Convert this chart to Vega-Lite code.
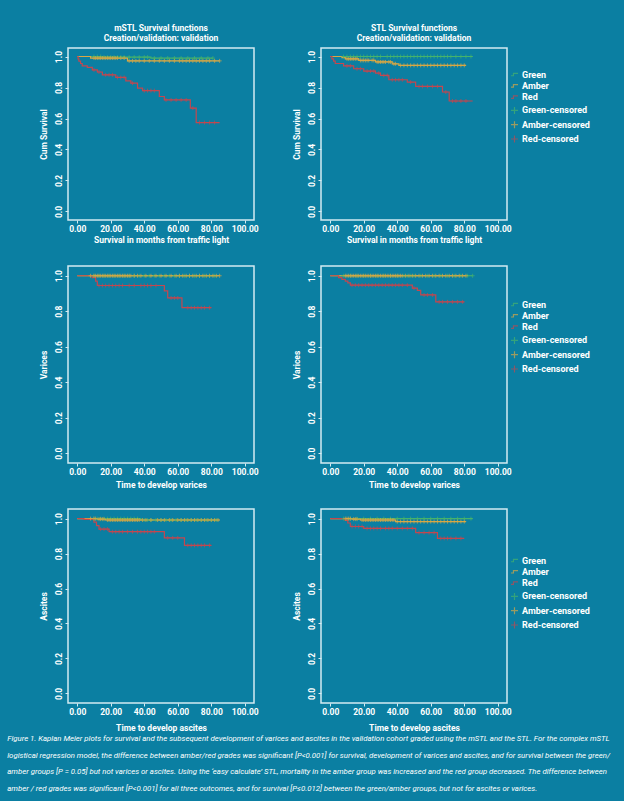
{
"$schema": "https://vega.github.io/schema/vega-lite/v6.json",
"background": "#0b7fa2",
"padding": {"left": 7, "top": 22, "right": 25, "bottom": 16},
"autosize": {"type": "pad"},
"datasets": {
"L": [
{"p":1,"k":"G","t":0,"s":1},{"p":1,"k":"G","t":15,"s":0.996},{"p":1,"k":"G","t":44,"s":0.99},{"p":1,"k":"G","t":81,"s":0.99},
{"p":1,"k":"A","t":0,"s":1},{"p":1,"k":"A","t":8,"s":0.99},{"p":1,"k":"A","t":30,"s":0.972},{"p":1,"k":"A","t":85,"s":0.972},
{"p":1,"k":"R","t":0,"s":1},{"p":1,"k":"R","t":0.5,"s":0.985},{"p":1,"k":"R","t":1,"s":0.97},{"p":1,"k":"R","t":2,"s":0.955},{"p":1,"k":"R","t":3,"s":0.94},{"p":1,"k":"R","t":6,"s":0.93},{"p":1,"k":"R","t":9,"s":0.914},{"p":1,"k":"R","t":12,"s":0.9},{"p":1,"k":"R","t":15,"s":0.882},{"p":1,"k":"R","t":23,"s":0.865},{"p":1,"k":"R","t":29,"s":0.843},{"p":1,"k":"R","t":32,"s":0.828},{"p":1,"k":"R","t":36,"s":0.796},{"p":1,"k":"R","t":39,"s":0.78},{"p":1,"k":"R","t":49,"s":0.742},{"p":1,"k":"R","t":52,"s":0.72},{"p":1,"k":"R","t":67.5,"s":0.667},{"p":1,"k":"R","t":71,"s":0.574},{"p":1,"k":"R","t":85,"s":0.574},
{"p":2,"k":"G","t":0,"s":1},{"p":2,"k":"G","t":85,"s":1},
{"p":2,"k":"A","t":0,"s":1},{"p":2,"k":"A","t":7,"s":0.993},{"p":2,"k":"A","t":9,"s":0.985},{"p":2,"k":"A","t":17,"s":0.975},{"p":2,"k":"A","t":27,"s":0.965},{"p":2,"k":"A","t":37,"s":0.953},{"p":2,"k":"A","t":41,"s":0.943},{"p":2,"k":"A","t":81,"s":0.943},
{"p":2,"k":"R","t":0,"s":1},{"p":2,"k":"R","t":1,"s":0.985},{"p":2,"k":"R","t":2,"s":0.97},{"p":2,"k":"R","t":3,"s":0.955},{"p":2,"k":"R","t":8,"s":0.94},{"p":2,"k":"R","t":14,"s":0.921},{"p":2,"k":"R","t":20,"s":0.906},{"p":2,"k":"R","t":27,"s":0.893},{"p":2,"k":"R","t":30,"s":0.878},{"p":2,"k":"R","t":35,"s":0.85},{"p":2,"k":"R","t":46,"s":0.835},{"p":2,"k":"R","t":51,"s":0.807},{"p":2,"k":"R","t":67,"s":0.771},{"p":2,"k":"R","t":71,"s":0.713},{"p":2,"k":"R","t":85,"s":0.713},
{"p":3,"k":"G","t":0,"s":1},{"p":3,"k":"G","t":84,"s":1},
{"p":3,"k":"A","t":0,"s":1},{"p":3,"k":"A","t":85,"s":1},
{"p":3,"k":"R","t":0,"s":1},{"p":3,"k":"R","t":9,"s":0.99},{"p":3,"k":"R","t":11,"s":0.97},{"p":3,"k":"R","t":12,"s":0.945},{"p":3,"k":"R","t":52,"s":0.915},{"p":3,"k":"R","t":54,"s":0.875},{"p":3,"k":"R","t":62.5,"s":0.82},{"p":3,"k":"R","t":80,"s":0.82},
{"p":4,"k":"G","t":0,"s":1},{"p":4,"k":"G","t":85,"s":1},
{"p":4,"k":"A","t":0,"s":1},{"p":4,"k":"A","t":81,"s":1},
{"p":4,"k":"R","t":0,"s":1},{"p":4,"k":"R","t":5,"s":0.99},{"p":4,"k":"R","t":7,"s":0.98},{"p":4,"k":"R","t":9,"s":0.97},{"p":4,"k":"R","t":10.5,"s":0.96},{"p":4,"k":"R","t":12,"s":0.947},{"p":4,"k":"R","t":49,"s":0.93},{"p":4,"k":"R","t":52,"s":0.918},{"p":4,"k":"R","t":54,"s":0.892},{"p":4,"k":"R","t":63,"s":0.853},{"p":4,"k":"R","t":80,"s":0.853},
{"p":5,"k":"G","t":0,"s":1},{"p":5,"k":"G","t":38,"s":0.992},{"p":5,"k":"G","t":84,"s":0.992},
{"p":5,"k":"A","t":0,"s":1},{"p":5,"k":"A","t":12,"s":0.997},{"p":5,"k":"A","t":17,"s":0.992},{"p":5,"k":"A","t":85,"s":0.992},
{"p":5,"k":"R","t":0,"s":1},{"p":5,"k":"R","t":4,"s":0.996},{"p":5,"k":"R","t":10,"s":0.98},{"p":5,"k":"R","t":11.5,"s":0.96},{"p":5,"k":"R","t":13,"s":0.94},{"p":5,"k":"R","t":19,"s":0.925},{"p":5,"k":"R","t":52,"s":0.89},{"p":5,"k":"R","t":64,"s":0.847},{"p":5,"k":"R","t":80,"s":0.847},
{"p":6,"k":"G","t":0,"s":1},{"p":6,"k":"G","t":85,"s":1},
{"p":6,"k":"A","t":0,"s":1},{"p":6,"k":"A","t":13,"s":0.997},{"p":6,"k":"A","t":18,"s":0.992},{"p":6,"k":"A","t":39,"s":0.983},{"p":6,"k":"A","t":81,"s":0.983},
{"p":6,"k":"R","t":0,"s":1},{"p":6,"k":"R","t":9,"s":0.99},{"p":6,"k":"R","t":10.5,"s":0.975},{"p":6,"k":"R","t":12,"s":0.955},{"p":6,"k":"R","t":20,"s":0.944},{"p":6,"k":"R","t":51,"s":0.92},{"p":6,"k":"R","t":64,"s":0.887},{"p":6,"k":"R","t":80,"s":0.887}
],
"C": [
{"p":1,"k":"Gc","t":10,"s":1},{"p":1,"k":"Gc","t":12,"s":1},{"p":1,"k":"Gc","t":14,"s":1},{"p":1,"k":"Gc","t":16,"s":0.996},{"p":1,"k":"Gc","t":18,"s":0.996},{"p":1,"k":"Gc","t":20,"s":0.996},{"p":1,"k":"Gc","t":22,"s":0.996},{"p":1,"k":"Gc","t":24,"s":0.996},{"p":1,"k":"Gc","t":26,"s":0.996},{"p":1,"k":"Gc","t":28,"s":0.996},{"p":1,"k":"Gc","t":31,"s":0.996},{"p":1,"k":"Gc","t":34,"s":0.996},{"p":1,"k":"Gc","t":37,"s":0.996},{"p":1,"k":"Gc","t":40,"s":0.996},{"p":1,"k":"Gc","t":42,"s":0.996},{"p":1,"k":"Gc","t":46,"s":0.99},{"p":1,"k":"Gc","t":50,"s":0.99},{"p":1,"k":"Gc","t":54,"s":0.99},{"p":1,"k":"Gc","t":58,"s":0.99},{"p":1,"k":"Gc","t":62,"s":0.99},{"p":1,"k":"Gc","t":66,"s":0.99},{"p":1,"k":"Gc","t":70,"s":0.99},{"p":1,"k":"Gc","t":74,"s":0.99},{"p":1,"k":"Gc","t":78,"s":0.99},{"p":1,"k":"Gc","t":81,"s":0.99},
{"p":1,"k":"Ac","t":10,"s":0.99},{"p":1,"k":"Ac","t":11,"s":0.99},{"p":1,"k":"Ac","t":12,"s":0.99},{"p":1,"k":"Ac","t":13,"s":0.99},{"p":1,"k":"Ac","t":14,"s":0.99},{"p":1,"k":"Ac","t":15,"s":0.99},{"p":1,"k":"Ac","t":16,"s":0.99},{"p":1,"k":"Ac","t":17,"s":0.99},{"p":1,"k":"Ac","t":18,"s":0.99},{"p":1,"k":"Ac","t":19,"s":0.99},{"p":1,"k":"Ac","t":20,"s":0.99},{"p":1,"k":"Ac","t":21,"s":0.99},{"p":1,"k":"Ac","t":22,"s":0.99},{"p":1,"k":"Ac","t":23,"s":0.99},{"p":1,"k":"Ac","t":24,"s":0.99},{"p":1,"k":"Ac","t":26,"s":0.99},{"p":1,"k":"Ac","t":28,"s":0.99},{"p":1,"k":"Ac","t":31,"s":0.972},{"p":1,"k":"Ac","t":33,"s":0.972},{"p":1,"k":"Ac","t":35,"s":0.972},{"p":1,"k":"Ac","t":37,"s":0.972},{"p":1,"k":"Ac","t":40,"s":0.972},{"p":1,"k":"Ac","t":43,"s":0.972},{"p":1,"k":"Ac","t":46,"s":0.972},{"p":1,"k":"Ac","t":49,"s":0.972},{"p":1,"k":"Ac","t":52,"s":0.972},{"p":1,"k":"Ac","t":55,"s":0.972},{"p":1,"k":"Ac","t":58,"s":0.972},{"p":1,"k":"Ac","t":61,"s":0.972},{"p":1,"k":"Ac","t":63,"s":0.972},{"p":1,"k":"Ac","t":65,"s":0.972},{"p":1,"k":"Ac","t":67,"s":0.972},{"p":1,"k":"Ac","t":69,"s":0.972},{"p":1,"k":"Ac","t":71,"s":0.972},{"p":1,"k":"Ac","t":73,"s":0.972},{"p":1,"k":"Ac","t":75,"s":0.972},{"p":1,"k":"Ac","t":77,"s":0.972},{"p":1,"k":"Ac","t":79,"s":0.972},{"p":1,"k":"Ac","t":82,"s":0.972},{"p":1,"k":"Ac","t":85,"s":0.972},
{"p":1,"k":"Rc","t":10,"s":0.914},{"p":1,"k":"Rc","t":13,"s":0.9},{"p":1,"k":"Rc","t":17,"s":0.882},{"p":1,"k":"Rc","t":19,"s":0.882},{"p":1,"k":"Rc","t":21,"s":0.882},{"p":1,"k":"Rc","t":24,"s":0.865},{"p":1,"k":"Rc","t":26,"s":0.865},{"p":1,"k":"Rc","t":28,"s":0.865},{"p":1,"k":"Rc","t":33,"s":0.828},{"p":1,"k":"Rc","t":40,"s":0.78},{"p":1,"k":"Rc","t":42,"s":0.78},{"p":1,"k":"Rc","t":44,"s":0.78},{"p":1,"k":"Rc","t":46,"s":0.78},{"p":1,"k":"Rc","t":53,"s":0.72},{"p":1,"k":"Rc","t":56,"s":0.72},{"p":1,"k":"Rc","t":59,"s":0.72},{"p":1,"k":"Rc","t":62,"s":0.72},{"p":1,"k":"Rc","t":65,"s":0.72},{"p":1,"k":"Rc","t":69,"s":0.667},{"p":1,"k":"Rc","t":73,"s":0.574},{"p":1,"k":"Rc","t":76,"s":0.574},{"p":1,"k":"Rc","t":79,"s":0.574},{"p":1,"k":"Rc","t":82,"s":0.574},
{"p":2,"k":"Gc","t":8,"s":1},{"p":2,"k":"Gc","t":10,"s":1},{"p":2,"k":"Gc","t":12,"s":1},{"p":2,"k":"Gc","t":14,"s":1},{"p":2,"k":"Gc","t":16,"s":1},{"p":2,"k":"Gc","t":18,"s":1},{"p":2,"k":"Gc","t":20,"s":1},{"p":2,"k":"Gc","t":22,"s":1},{"p":2,"k":"Gc","t":24,"s":1},{"p":2,"k":"Gc","t":26,"s":1},{"p":2,"k":"Gc","t":28,"s":1},{"p":2,"k":"Gc","t":30,"s":1},{"p":2,"k":"Gc","t":34,"s":1},{"p":2,"k":"Gc","t":36,"s":1},{"p":2,"k":"Gc","t":38,"s":1},{"p":2,"k":"Gc","t":40,"s":1},{"p":2,"k":"Gc","t":42,"s":1},{"p":2,"k":"Gc","t":44,"s":1},{"p":2,"k":"Gc","t":46,"s":1},{"p":2,"k":"Gc","t":48,"s":1},{"p":2,"k":"Gc","t":50,"s":1},{"p":2,"k":"Gc","t":52,"s":1},{"p":2,"k":"Gc","t":54,"s":1},{"p":2,"k":"Gc","t":56,"s":1},{"p":2,"k":"Gc","t":58,"s":1},{"p":2,"k":"Gc","t":60,"s":1},{"p":2,"k":"Gc","t":62,"s":1},{"p":2,"k":"Gc","t":64,"s":1},{"p":2,"k":"Gc","t":66,"s":1},{"p":2,"k":"Gc","t":68,"s":1},{"p":2,"k":"Gc","t":70,"s":1},{"p":2,"k":"Gc","t":72,"s":1},{"p":2,"k":"Gc","t":75,"s":1},{"p":2,"k":"Gc","t":78,"s":1},{"p":2,"k":"Gc","t":81,"s":1},{"p":2,"k":"Gc","t":84,"s":1},
{"p":2,"k":"Ac","t":10,"s":0.985},{"p":2,"k":"Ac","t":11,"s":0.985},{"p":2,"k":"Ac","t":12,"s":0.985},{"p":2,"k":"Ac","t":13,"s":0.985},{"p":2,"k":"Ac","t":14,"s":0.985},{"p":2,"k":"Ac","t":15,"s":0.985},{"p":2,"k":"Ac","t":16,"s":0.985},{"p":2,"k":"Ac","t":18,"s":0.975},{"p":2,"k":"Ac","t":19,"s":0.975},{"p":2,"k":"Ac","t":20,"s":0.975},{"p":2,"k":"Ac","t":21,"s":0.975},{"p":2,"k":"Ac","t":22,"s":0.975},{"p":2,"k":"Ac","t":23,"s":0.975},{"p":2,"k":"Ac","t":25,"s":0.975},{"p":2,"k":"Ac","t":26,"s":0.975},{"p":2,"k":"Ac","t":28,"s":0.965},{"p":2,"k":"Ac","t":29,"s":0.965},{"p":2,"k":"Ac","t":30,"s":0.965},{"p":2,"k":"Ac","t":31,"s":0.965},{"p":2,"k":"Ac","t":32,"s":0.965},{"p":2,"k":"Ac","t":33,"s":0.965},{"p":2,"k":"Ac","t":35,"s":0.965},{"p":2,"k":"Ac","t":36,"s":0.965},{"p":2,"k":"Ac","t":38,"s":0.953},{"p":2,"k":"Ac","t":39,"s":0.953},{"p":2,"k":"Ac","t":42,"s":0.943},{"p":2,"k":"Ac","t":44,"s":0.943},{"p":2,"k":"Ac","t":46,"s":0.943},{"p":2,"k":"Ac","t":48,"s":0.943},{"p":2,"k":"Ac","t":50,"s":0.943},{"p":2,"k":"Ac","t":52,"s":0.943},{"p":2,"k":"Ac","t":54,"s":0.943},{"p":2,"k":"Ac","t":56,"s":0.943},{"p":2,"k":"Ac","t":58,"s":0.943},{"p":2,"k":"Ac","t":60,"s":0.943},{"p":2,"k":"Ac","t":62,"s":0.943},{"p":2,"k":"Ac","t":64,"s":0.943},{"p":2,"k":"Ac","t":66,"s":0.943},{"p":2,"k":"Ac","t":68,"s":0.943},{"p":2,"k":"Ac","t":70,"s":0.943},{"p":2,"k":"Ac","t":72,"s":0.943},{"p":2,"k":"Ac","t":74,"s":0.943},{"p":2,"k":"Ac","t":76,"s":0.943},{"p":2,"k":"Ac","t":78,"s":0.943},{"p":2,"k":"Ac","t":80,"s":0.943},
{"p":2,"k":"Rc","t":10,"s":0.94},{"p":2,"k":"Rc","t":12,"s":0.94},{"p":2,"k":"Rc","t":16,"s":0.921},{"p":2,"k":"Rc","t":18,"s":0.921},{"p":2,"k":"Rc","t":22,"s":0.906},{"p":2,"k":"Rc","t":24,"s":0.906},{"p":2,"k":"Rc","t":26,"s":0.906},{"p":2,"k":"Rc","t":29,"s":0.893},{"p":2,"k":"Rc","t":32,"s":0.878},{"p":2,"k":"Rc","t":34,"s":0.878},{"p":2,"k":"Rc","t":37,"s":0.85},{"p":2,"k":"Rc","t":39,"s":0.85},{"p":2,"k":"Rc","t":41,"s":0.85},{"p":2,"k":"Rc","t":43,"s":0.85},{"p":2,"k":"Rc","t":48,"s":0.835},{"p":2,"k":"Rc","t":53,"s":0.807},{"p":2,"k":"Rc","t":55,"s":0.807},{"p":2,"k":"Rc","t":58,"s":0.807},{"p":2,"k":"Rc","t":61,"s":0.807},{"p":2,"k":"Rc","t":64,"s":0.807},{"p":2,"k":"Rc","t":69,"s":0.771},{"p":2,"k":"Rc","t":73,"s":0.713},{"p":2,"k":"Rc","t":75,"s":0.713},{"p":2,"k":"Rc","t":78,"s":0.713},{"p":2,"k":"Rc","t":81,"s":0.713},
{"p":3,"k":"Gc","t":10,"s":1},{"p":3,"k":"Gc","t":13,"s":1},{"p":3,"k":"Gc","t":16,"s":1},{"p":3,"k":"Gc","t":19,"s":1},{"p":3,"k":"Gc","t":22,"s":1},{"p":3,"k":"Gc","t":25,"s":1},{"p":3,"k":"Gc","t":28,"s":1},{"p":3,"k":"Gc","t":31,"s":1},{"p":3,"k":"Gc","t":34,"s":1},{"p":3,"k":"Gc","t":37,"s":1},{"p":3,"k":"Gc","t":40,"s":1},{"p":3,"k":"Gc","t":43,"s":1},{"p":3,"k":"Gc","t":46,"s":1},{"p":3,"k":"Gc","t":49,"s":1},{"p":3,"k":"Gc","t":52,"s":1},{"p":3,"k":"Gc","t":55,"s":1},{"p":3,"k":"Gc","t":58,"s":1},{"p":3,"k":"Gc","t":61,"s":1},{"p":3,"k":"Gc","t":64,"s":1},{"p":3,"k":"Gc","t":67,"s":1},{"p":3,"k":"Gc","t":70,"s":1},{"p":3,"k":"Gc","t":73,"s":1},{"p":3,"k":"Gc","t":76,"s":1},{"p":3,"k":"Gc","t":79,"s":1},{"p":3,"k":"Gc","t":82,"s":1},
{"p":3,"k":"Ac","t":8,"s":1},{"p":3,"k":"Ac","t":10,"s":1},{"p":3,"k":"Ac","t":11,"s":1},{"p":3,"k":"Ac","t":12,"s":1},{"p":3,"k":"Ac","t":13,"s":1},{"p":3,"k":"Ac","t":14,"s":1},{"p":3,"k":"Ac","t":15,"s":1},{"p":3,"k":"Ac","t":16,"s":1},{"p":3,"k":"Ac","t":17,"s":1},{"p":3,"k":"Ac","t":18,"s":1},{"p":3,"k":"Ac","t":19,"s":1},{"p":3,"k":"Ac","t":20,"s":1},{"p":3,"k":"Ac","t":21,"s":1},{"p":3,"k":"Ac","t":22,"s":1},{"p":3,"k":"Ac","t":23,"s":1},{"p":3,"k":"Ac","t":24,"s":1},{"p":3,"k":"Ac","t":25,"s":1},{"p":3,"k":"Ac","t":26,"s":1},{"p":3,"k":"Ac","t":27,"s":1},{"p":3,"k":"Ac","t":28,"s":1},{"p":3,"k":"Ac","t":29,"s":1},{"p":3,"k":"Ac","t":30,"s":1},{"p":3,"k":"Ac","t":31,"s":1},{"p":3,"k":"Ac","t":32,"s":1},{"p":3,"k":"Ac","t":34,"s":1},{"p":3,"k":"Ac","t":36,"s":1},{"p":3,"k":"Ac","t":38,"s":1},{"p":3,"k":"Ac","t":41,"s":1},{"p":3,"k":"Ac","t":44,"s":1},{"p":3,"k":"Ac","t":47,"s":1},{"p":3,"k":"Ac","t":50,"s":1},{"p":3,"k":"Ac","t":53,"s":1},{"p":3,"k":"Ac","t":56,"s":1},{"p":3,"k":"Ac","t":59,"s":1},{"p":3,"k":"Ac","t":61,"s":1},{"p":3,"k":"Ac","t":63,"s":1},{"p":3,"k":"Ac","t":65,"s":1},{"p":3,"k":"Ac","t":67,"s":1},{"p":3,"k":"Ac","t":69,"s":1},{"p":3,"k":"Ac","t":71,"s":1},{"p":3,"k":"Ac","t":73,"s":1},{"p":3,"k":"Ac","t":75,"s":1},{"p":3,"k":"Ac","t":77,"s":1},{"p":3,"k":"Ac","t":79,"s":1},{"p":3,"k":"Ac","t":81,"s":1},{"p":3,"k":"Ac","t":83,"s":1},{"p":3,"k":"Ac","t":85,"s":1},
{"p":3,"k":"Rc","t":13,"s":0.945},{"p":3,"k":"Rc","t":15,"s":0.945},{"p":3,"k":"Rc","t":17,"s":0.945},{"p":3,"k":"Rc","t":19,"s":0.945},{"p":3,"k":"Rc","t":21,"s":0.945},{"p":3,"k":"Rc","t":23,"s":0.945},{"p":3,"k":"Rc","t":25,"s":0.945},{"p":3,"k":"Rc","t":27,"s":0.945},{"p":3,"k":"Rc","t":31,"s":0.945},{"p":3,"k":"Rc","t":34,"s":0.945},{"p":3,"k":"Rc","t":38,"s":0.945},{"p":3,"k":"Rc","t":40,"s":0.945},{"p":3,"k":"Rc","t":42,"s":0.945},{"p":3,"k":"Rc","t":44,"s":0.945},{"p":3,"k":"Rc","t":47,"s":0.945},{"p":3,"k":"Rc","t":56,"s":0.875},{"p":3,"k":"Rc","t":58,"s":0.875},{"p":3,"k":"Rc","t":60,"s":0.875},{"p":3,"k":"Rc","t":66,"s":0.82},{"p":3,"k":"Rc","t":68,"s":0.82},{"p":3,"k":"Rc","t":70,"s":0.82},{"p":3,"k":"Rc","t":72,"s":0.82},{"p":3,"k":"Rc","t":74,"s":0.82},{"p":3,"k":"Rc","t":76,"s":0.82},{"p":3,"k":"Rc","t":79,"s":0.82},
{"p":4,"k":"Gc","t":8,"s":1},{"p":4,"k":"Gc","t":12,"s":1},{"p":4,"k":"Gc","t":16,"s":1},{"p":4,"k":"Gc","t":20,"s":1},{"p":4,"k":"Gc","t":24,"s":1},{"p":4,"k":"Gc","t":28,"s":1},{"p":4,"k":"Gc","t":32,"s":1},{"p":4,"k":"Gc","t":36,"s":1},{"p":4,"k":"Gc","t":40,"s":1},{"p":4,"k":"Gc","t":44,"s":1},{"p":4,"k":"Gc","t":46,"s":1},{"p":4,"k":"Gc","t":48,"s":1},{"p":4,"k":"Gc","t":50,"s":1},{"p":4,"k":"Gc","t":54,"s":1},{"p":4,"k":"Gc","t":58,"s":1},{"p":4,"k":"Gc","t":62,"s":1},{"p":4,"k":"Gc","t":66,"s":1},{"p":4,"k":"Gc","t":70,"s":1},{"p":4,"k":"Gc","t":74,"s":1},{"p":4,"k":"Gc","t":78,"s":1},{"p":4,"k":"Gc","t":82,"s":1},{"p":4,"k":"Gc","t":85,"s":1},
{"p":4,"k":"Ac","t":9,"s":1},{"p":4,"k":"Ac","t":10,"s":1},{"p":4,"k":"Ac","t":11,"s":1},{"p":4,"k":"Ac","t":12,"s":1},{"p":4,"k":"Ac","t":13,"s":1},{"p":4,"k":"Ac","t":14,"s":1},{"p":4,"k":"Ac","t":15,"s":1},{"p":4,"k":"Ac","t":16,"s":1},{"p":4,"k":"Ac","t":17,"s":1},{"p":4,"k":"Ac","t":18,"s":1},{"p":4,"k":"Ac","t":19,"s":1},{"p":4,"k":"Ac","t":20,"s":1},{"p":4,"k":"Ac","t":21,"s":1},{"p":4,"k":"Ac","t":22,"s":1},{"p":4,"k":"Ac","t":23,"s":1},{"p":4,"k":"Ac","t":24,"s":1},{"p":4,"k":"Ac","t":25,"s":1},{"p":4,"k":"Ac","t":26,"s":1},{"p":4,"k":"Ac","t":27,"s":1},{"p":4,"k":"Ac","t":28,"s":1},{"p":4,"k":"Ac","t":29,"s":1},{"p":4,"k":"Ac","t":30,"s":1},{"p":4,"k":"Ac","t":31,"s":1},{"p":4,"k":"Ac","t":32,"s":1},{"p":4,"k":"Ac","t":33,"s":1},{"p":4,"k":"Ac","t":34,"s":1},{"p":4,"k":"Ac","t":35,"s":1},{"p":4,"k":"Ac","t":36,"s":1},{"p":4,"k":"Ac","t":37,"s":1},{"p":4,"k":"Ac","t":38,"s":1},{"p":4,"k":"Ac","t":39,"s":1},{"p":4,"k":"Ac","t":40,"s":1},{"p":4,"k":"Ac","t":41,"s":1},{"p":4,"k":"Ac","t":42,"s":1},{"p":4,"k":"Ac","t":43,"s":1},{"p":4,"k":"Ac","t":45,"s":1},{"p":4,"k":"Ac","t":47,"s":1},{"p":4,"k":"Ac","t":49,"s":1},{"p":4,"k":"Ac","t":51,"s":1},{"p":4,"k":"Ac","t":53,"s":1},{"p":4,"k":"Ac","t":55,"s":1},{"p":4,"k":"Ac","t":57,"s":1},{"p":4,"k":"Ac","t":59,"s":1},{"p":4,"k":"Ac","t":61,"s":1},{"p":4,"k":"Ac","t":63,"s":1},{"p":4,"k":"Ac","t":65,"s":1},{"p":4,"k":"Ac","t":67,"s":1},{"p":4,"k":"Ac","t":69,"s":1},{"p":4,"k":"Ac","t":71,"s":1},{"p":4,"k":"Ac","t":73,"s":1},{"p":4,"k":"Ac","t":75,"s":1},{"p":4,"k":"Ac","t":77,"s":1},{"p":4,"k":"Ac","t":79,"s":1},{"p":4,"k":"Ac","t":81,"s":1},
{"p":4,"k":"Rc","t":13,"s":0.947},{"p":4,"k":"Rc","t":15,"s":0.947},{"p":4,"k":"Rc","t":17,"s":0.947},{"p":4,"k":"Rc","t":19,"s":0.947},{"p":4,"k":"Rc","t":21,"s":0.947},{"p":4,"k":"Rc","t":23,"s":0.947},{"p":4,"k":"Rc","t":25,"s":0.947},{"p":4,"k":"Rc","t":27,"s":0.947},{"p":4,"k":"Rc","t":29,"s":0.947},{"p":4,"k":"Rc","t":31,"s":0.947},{"p":4,"k":"Rc","t":33,"s":0.947},{"p":4,"k":"Rc","t":35,"s":0.947},{"p":4,"k":"Rc","t":37,"s":0.947},{"p":4,"k":"Rc","t":39,"s":0.947},{"p":4,"k":"Rc","t":41,"s":0.947},{"p":4,"k":"Rc","t":43,"s":0.947},{"p":4,"k":"Rc","t":46,"s":0.947},{"p":4,"k":"Rc","t":50,"s":0.93},{"p":4,"k":"Rc","t":56,"s":0.892},{"p":4,"k":"Rc","t":58,"s":0.892},{"p":4,"k":"Rc","t":61,"s":0.892},{"p":4,"k":"Rc","t":65,"s":0.853},{"p":4,"k":"Rc","t":67,"s":0.853},{"p":4,"k":"Rc","t":70,"s":0.853},{"p":4,"k":"Rc","t":73,"s":0.853},{"p":4,"k":"Rc","t":76,"s":0.853},{"p":4,"k":"Rc","t":79,"s":0.853},
{"p":5,"k":"Gc","t":10,"s":1},{"p":5,"k":"Gc","t":12,"s":1},{"p":5,"k":"Gc","t":14,"s":1},{"p":5,"k":"Gc","t":16,"s":1},{"p":5,"k":"Gc","t":18,"s":1},{"p":5,"k":"Gc","t":20,"s":1},{"p":5,"k":"Gc","t":22,"s":1},{"p":5,"k":"Gc","t":24,"s":1},{"p":5,"k":"Gc","t":26,"s":1},{"p":5,"k":"Gc","t":28,"s":1},{"p":5,"k":"Gc","t":30,"s":1},{"p":5,"k":"Gc","t":32,"s":1},{"p":5,"k":"Gc","t":34,"s":1},{"p":5,"k":"Gc","t":36,"s":1},{"p":5,"k":"Gc","t":40,"s":0.992},{"p":5,"k":"Gc","t":42,"s":0.992},{"p":5,"k":"Gc","t":44,"s":0.992},{"p":5,"k":"Gc","t":47,"s":0.992},{"p":5,"k":"Gc","t":50,"s":0.992},{"p":5,"k":"Gc","t":53,"s":0.992},{"p":5,"k":"Gc","t":56,"s":0.992},{"p":5,"k":"Gc","t":59,"s":0.992},{"p":5,"k":"Gc","t":62,"s":0.992},{"p":5,"k":"Gc","t":65,"s":0.992},{"p":5,"k":"Gc","t":68,"s":0.992},{"p":5,"k":"Gc","t":71,"s":0.992},{"p":5,"k":"Gc","t":74,"s":0.992},{"p":5,"k":"Gc","t":77,"s":0.992},{"p":5,"k":"Gc","t":80,"s":0.992},{"p":5,"k":"Gc","t":83,"s":0.992},
{"p":5,"k":"Ac","t":8,"s":1},{"p":5,"k":"Ac","t":10,"s":1},{"p":5,"k":"Ac","t":11,"s":1},{"p":5,"k":"Ac","t":13,"s":0.997},{"p":5,"k":"Ac","t":14,"s":0.997},{"p":5,"k":"Ac","t":15,"s":0.997},{"p":5,"k":"Ac","t":16,"s":0.997},{"p":5,"k":"Ac","t":18,"s":0.992},{"p":5,"k":"Ac","t":19,"s":0.992},{"p":5,"k":"Ac","t":20,"s":0.992},{"p":5,"k":"Ac","t":21,"s":0.992},{"p":5,"k":"Ac","t":22,"s":0.992},{"p":5,"k":"Ac","t":23,"s":0.992},{"p":5,"k":"Ac","t":24,"s":0.992},{"p":5,"k":"Ac","t":25,"s":0.992},{"p":5,"k":"Ac","t":26,"s":0.992},{"p":5,"k":"Ac","t":27,"s":0.992},{"p":5,"k":"Ac","t":28,"s":0.992},{"p":5,"k":"Ac","t":29,"s":0.992},{"p":5,"k":"Ac","t":30,"s":0.992},{"p":5,"k":"Ac","t":31,"s":0.992},{"p":5,"k":"Ac","t":32,"s":0.992},{"p":5,"k":"Ac","t":33,"s":0.992},{"p":5,"k":"Ac","t":34,"s":0.992},{"p":5,"k":"Ac","t":35,"s":0.992},{"p":5,"k":"Ac","t":36,"s":0.992},{"p":5,"k":"Ac","t":37,"s":0.992},{"p":5,"k":"Ac","t":39,"s":0.992},{"p":5,"k":"Ac","t":41,"s":0.992},{"p":5,"k":"Ac","t":44,"s":0.992},{"p":5,"k":"Ac","t":48,"s":0.992},{"p":5,"k":"Ac","t":50,"s":0.992},{"p":5,"k":"Ac","t":52,"s":0.992},{"p":5,"k":"Ac","t":55,"s":0.992},{"p":5,"k":"Ac","t":57,"s":0.992},{"p":5,"k":"Ac","t":60,"s":0.992},{"p":5,"k":"Ac","t":62,"s":0.992},{"p":5,"k":"Ac","t":64,"s":0.992},{"p":5,"k":"Ac","t":66,"s":0.992},{"p":5,"k":"Ac","t":68,"s":0.992},{"p":5,"k":"Ac","t":70,"s":0.992},{"p":5,"k":"Ac","t":72,"s":0.992},{"p":5,"k":"Ac","t":74,"s":0.992},{"p":5,"k":"Ac","t":76,"s":0.992},{"p":5,"k":"Ac","t":78,"s":0.992},{"p":5,"k":"Ac","t":80,"s":0.992},{"p":5,"k":"Ac","t":82,"s":0.992},{"p":5,"k":"Ac","t":84,"s":0.992},
{"p":5,"k":"Rc","t":14,"s":0.94},{"p":5,"k":"Rc","t":16,"s":0.94},{"p":5,"k":"Rc","t":18,"s":0.94},{"p":5,"k":"Rc","t":21,"s":0.925},{"p":5,"k":"Rc","t":23,"s":0.925},{"p":5,"k":"Rc","t":25,"s":0.925},{"p":5,"k":"Rc","t":27,"s":0.925},{"p":5,"k":"Rc","t":30,"s":0.925},{"p":5,"k":"Rc","t":33,"s":0.925},{"p":5,"k":"Rc","t":36,"s":0.925},{"p":5,"k":"Rc","t":38,"s":0.925},{"p":5,"k":"Rc","t":40,"s":0.925},{"p":5,"k":"Rc","t":42,"s":0.925},{"p":5,"k":"Rc","t":44,"s":0.925},{"p":5,"k":"Rc","t":46,"s":0.925},{"p":5,"k":"Rc","t":54,"s":0.89},{"p":5,"k":"Rc","t":57,"s":0.89},{"p":5,"k":"Rc","t":60,"s":0.89},{"p":5,"k":"Rc","t":66,"s":0.847},{"p":5,"k":"Rc","t":68,"s":0.847},{"p":5,"k":"Rc","t":70,"s":0.847},{"p":5,"k":"Rc","t":72,"s":0.847},{"p":5,"k":"Rc","t":74,"s":0.847},{"p":5,"k":"Rc","t":76,"s":0.847},{"p":5,"k":"Rc","t":79,"s":0.847},
{"p":6,"k":"Gc","t":8,"s":1},{"p":6,"k":"Gc","t":12,"s":1},{"p":6,"k":"Gc","t":16,"s":1},{"p":6,"k":"Gc","t":20,"s":1},{"p":6,"k":"Gc","t":24,"s":1},{"p":6,"k":"Gc","t":28,"s":1},{"p":6,"k":"Gc","t":32,"s":1},{"p":6,"k":"Gc","t":36,"s":1},{"p":6,"k":"Gc","t":40,"s":1},{"p":6,"k":"Gc","t":44,"s":1},{"p":6,"k":"Gc","t":48,"s":1},{"p":6,"k":"Gc","t":52,"s":1},{"p":6,"k":"Gc","t":56,"s":1},{"p":6,"k":"Gc","t":60,"s":1},{"p":6,"k":"Gc","t":64,"s":1},{"p":6,"k":"Gc","t":68,"s":1},{"p":6,"k":"Gc","t":72,"s":1},{"p":6,"k":"Gc","t":76,"s":1},{"p":6,"k":"Gc","t":80,"s":1},{"p":6,"k":"Gc","t":84,"s":1},
{"p":6,"k":"Ac","t":9,"s":1},{"p":6,"k":"Ac","t":10,"s":1},{"p":6,"k":"Ac","t":11,"s":1},{"p":6,"k":"Ac","t":12,"s":1},{"p":6,"k":"Ac","t":14,"s":0.997},{"p":6,"k":"Ac","t":15,"s":0.997},{"p":6,"k":"Ac","t":16,"s":0.997},{"p":6,"k":"Ac","t":19,"s":0.992},{"p":6,"k":"Ac","t":20,"s":0.992},{"p":6,"k":"Ac","t":21,"s":0.992},{"p":6,"k":"Ac","t":22,"s":0.992},{"p":6,"k":"Ac","t":23,"s":0.992},{"p":6,"k":"Ac","t":24,"s":0.992},{"p":6,"k":"Ac","t":25,"s":0.992},{"p":6,"k":"Ac","t":26,"s":0.992},{"p":6,"k":"Ac","t":27,"s":0.992},{"p":6,"k":"Ac","t":28,"s":0.992},{"p":6,"k":"Ac","t":29,"s":0.992},{"p":6,"k":"Ac","t":30,"s":0.992},{"p":6,"k":"Ac","t":31,"s":0.992},{"p":6,"k":"Ac","t":32,"s":0.992},{"p":6,"k":"Ac","t":33,"s":0.992},{"p":6,"k":"Ac","t":34,"s":0.992},{"p":6,"k":"Ac","t":35,"s":0.992},{"p":6,"k":"Ac","t":36,"s":0.992},{"p":6,"k":"Ac","t":37,"s":0.992},{"p":6,"k":"Ac","t":38,"s":0.992},{"p":6,"k":"Ac","t":40,"s":0.983},{"p":6,"k":"Ac","t":42,"s":0.983},{"p":6,"k":"Ac","t":44,"s":0.983},{"p":6,"k":"Ac","t":46,"s":0.983},{"p":6,"k":"Ac","t":48,"s":0.983},{"p":6,"k":"Ac","t":50,"s":0.983},{"p":6,"k":"Ac","t":52,"s":0.983},{"p":6,"k":"Ac","t":54,"s":0.983},{"p":6,"k":"Ac","t":56,"s":0.983},{"p":6,"k":"Ac","t":58,"s":0.983},{"p":6,"k":"Ac","t":60,"s":0.983},{"p":6,"k":"Ac","t":62,"s":0.983},{"p":6,"k":"Ac","t":64,"s":0.983},{"p":6,"k":"Ac","t":66,"s":0.983},{"p":6,"k":"Ac","t":68,"s":0.983},{"p":6,"k":"Ac","t":70,"s":0.983},{"p":6,"k":"Ac","t":72,"s":0.983},{"p":6,"k":"Ac","t":74,"s":0.983},{"p":6,"k":"Ac","t":76,"s":0.983},{"p":6,"k":"Ac","t":78,"s":0.983},{"p":6,"k":"Ac","t":80,"s":0.983},
{"p":6,"k":"Rc","t":13,"s":0.955},{"p":6,"k":"Rc","t":15,"s":0.955},{"p":6,"k":"Rc","t":17,"s":0.955},{"p":6,"k":"Rc","t":19,"s":0.955},{"p":6,"k":"Rc","t":22,"s":0.944},{"p":6,"k":"Rc","t":24,"s":0.944},{"p":6,"k":"Rc","t":26,"s":0.944},{"p":6,"k":"Rc","t":28,"s":0.944},{"p":6,"k":"Rc","t":30,"s":0.944},{"p":6,"k":"Rc","t":33,"s":0.944},{"p":6,"k":"Rc","t":35,"s":0.944},{"p":6,"k":"Rc","t":37,"s":0.944},{"p":6,"k":"Rc","t":40,"s":0.944},{"p":6,"k":"Rc","t":43,"s":0.944},{"p":6,"k":"Rc","t":46,"s":0.944},{"p":6,"k":"Rc","t":49,"s":0.944},{"p":6,"k":"Rc","t":53,"s":0.92},{"p":6,"k":"Rc","t":56,"s":0.92},{"p":6,"k":"Rc","t":59,"s":0.92},{"p":6,"k":"Rc","t":62,"s":0.92},{"p":6,"k":"Rc","t":66,"s":0.887},{"p":6,"k":"Rc","t":68,"s":0.887},{"p":6,"k":"Rc","t":70,"s":0.887},{"p":6,"k":"Rc","t":72,"s":0.887},{"p":6,"k":"Rc","t":75,"s":0.887},{"p":6,"k":"Rc","t":78,"s":0.887}
]
},
"title": {
"text": [
"Figure 1. Kaplan Meier plots for survival and the subsequent development of varices and ascites in the validation cohort graded using the mSTL and the STL. For the complex mSTL",
"logistical regression model, the difference between amber/red grades was significant [P<0.001] for survival, development of varices and ascites, and for survival between the green/",
"amber groups [P = 0.05] but not varices or ascites. Using the ‘easy calculate’ STL, mortality in the amber group was increased and the red group decreased. The difference between",
"amber / red grades was significant [P<0.001] for all three outcomes, and for survival [P≤0.012] between the green/amber groups, but not for ascites or varices."
],
"orient": "bottom", "anchor": "start", "frame": "bounds",
"font": "Roboto", "fontStyle": "italic", "fontWeight": "normal",
"fontSize": 7.8, "color": "white", "lineHeight": 16.5, "offset": 3, "dx": -31
},
"columns": 2,
"spacing": {"row": 46, "column": 67},
"bounds": "flush",
"resolve": {"scale": {"color": "independent", "shape": "independent", "stroke": "independent"}},
"concat": [
{"width": 186, "height": 172,
 "title": {"text": ["mSTL Survival functions", "Creation/validation: validation"], "fontSize": 8.5, "fontWeight": "bold", "color": "white", "font": "Roboto", "offset": 6, "lineHeight": 10, "anchor": "middle"},
 "encoding": {
  "x": {"field": "t", "type": "quantitative", "scale": {"domain": [-5.5, 105.5], "nice": false, "zero": false}, "axis": {"values": [0,20,40,60,80,100], "format": ".2f", "title": "Survival in months from traffic light", "labelPadding": 1.5, "titlePadding": 2}},
  "y": {"field": "s", "type": "quantitative", "scale": {"domain": [-0.055, 1.055], "nice": false, "zero": false}, "axis": {"values": [0,0.2,0.4,0.6,0.8,1], "format": ".1f", "title": "Cum Survival", "labelAngle": -90, "labelAlign": "center", "labelBaseline": "bottom", "labelPadding": 2, "titlePadding": 6}}
 },
 "layer": [
  {"data": {"name": "L"}, "transform": [{"filter": "datum.p == 1"}], "mark": {"type": "line", "interpolate": "step-after", "strokeWidth": 1.2},
   "encoding": {"stroke": {"field": "k", "type": "nominal", "scale": {"domain": ["G","A","R"], "range": ["#46b36c","#d9a845","#c4474f"]}, "legend": null}}},
  {"data": {"name": "C"}, "transform": [{"filter": "datum.p == 1"}], "mark": {"type": "point", "filled": false, "strokeWidth": 1, "size": 16},
   "encoding": {
    "color": {"field": "k", "type": "nominal", "scale": {"domain": ["G","A","R","Gc","Ac","Rc"], "range": ["#46b36c","#d9a845","#c4474f","#46b36c","#d9a845","#c4474f"]}, "legend": null},
    "shape": {"field": "k", "type": "nominal", "scale": {"domain": ["G","A","R","Gc","Ac","Rc"], "range": ["M-1,0.35L-0.3,0.35L-0.3,-0.35L1,-0.35","M-1,0.35L-0.3,0.35L-0.3,-0.35L1,-0.35","M-1,0.35L-0.3,0.35L-0.3,-0.35L1,-0.35","M-1,0L1,0M0,-1L0,1","M-1,0L1,0M0,-1L0,1","M-1,0L1,0M0,-1L0,1"]}, "legend": null}
   }}
 ]},
{"width": 186, "height": 172,
 "title": {"text": ["STL Survival functions", "Creation/validation: validation"], "fontSize": 8.5, "fontWeight": "bold", "color": "white", "font": "Roboto", "offset": 6, "lineHeight": 10, "anchor": "middle"},
 "encoding": {
  "x": {"field": "t", "type": "quantitative", "scale": {"domain": [-5.5, 105.5], "nice": false, "zero": false}, "axis": {"values": [0,20,40,60,80,100], "format": ".2f", "title": "Survival in months from traffic light", "labelPadding": 1.5, "titlePadding": 2}},
  "y": {"field": "s", "type": "quantitative", "scale": {"domain": [-0.055, 1.055], "nice": false, "zero": false}, "axis": {"values": [0,0.2,0.4,0.6,0.8,1], "format": ".1f", "title": "Cum Survival", "labelAngle": -90, "labelAlign": "center", "labelBaseline": "bottom", "labelPadding": 2, "titlePadding": 6}}
 },
 "layer": [
  {"data": {"name": "L"}, "transform": [{"filter": "datum.p == 2"}], "mark": {"type": "line", "interpolate": "step-after", "strokeWidth": 1.2},
   "encoding": {"stroke": {"field": "k", "type": "nominal", "scale": {"domain": ["G","A","R"], "range": ["#46b36c","#d9a845","#c4474f"]}, "legend": null}}},
  {"data": {"name": "C"}, "transform": [{"filter": "datum.p == 2"}], "mark": {"type": "point", "filled": false, "strokeWidth": 1, "size": 16},
   "encoding": {
    "color": {"field": "k", "type": "nominal", "scale": {"domain": ["G","A","R","Gc","Ac","Rc"], "range": ["#46b36c","#d9a845","#c4474f","#46b36c","#d9a845","#c4474f"]}, "legend": {"orient": "none", "legendX": 189, "legendY": 22, "labelExpr": "{'G':'Green','A':'Amber','R':'Red','Gc':'Green-censored','Ac':'Amber-censored','Rc':'Red-censored'}[datum.label]"}},
    "shape": {"field": "k", "type": "nominal", "scale": {"domain": ["G","A","R","Gc","Ac","Rc"], "range": ["M-1,0.35L-0.3,0.35L-0.3,-0.35L1,-0.35","M-1,0.35L-0.3,0.35L-0.3,-0.35L1,-0.35","M-1,0.35L-0.3,0.35L-0.3,-0.35L1,-0.35","M-1,0L1,0M0,-1L0,1","M-1,0L1,0M0,-1L0,1","M-1,0L1,0M0,-1L0,1"]}, "legend": {"orient": "none", "legendX": 189, "legendY": 22, "labelExpr": "{'G':'Green','A':'Amber','R':'Red','Gc':'Green-censored','Ac':'Amber-censored','Rc':'Red-censored'}[datum.label]"}}
   }}
 ]},
{"width": 186, "height": 197,
 "encoding": {
  "x": {"field": "t", "type": "quantitative", "scale": {"domain": [-5.5, 105.5], "nice": false, "zero": false}, "axis": {"values": [0,20,40,60,80,100], "format": ".2f", "title": "Time to develop varices", "labelPadding": 1.5, "titlePadding": 4}},
  "y": {"field": "s", "type": "quantitative", "scale": {"domain": [-0.055, 1.055], "nice": false, "zero": false}, "axis": {"values": [0,0.2,0.4,0.6,0.8,1], "format": ".1f", "title": "Varices", "labelAngle": -90, "labelAlign": "center", "labelBaseline": "bottom", "labelPadding": 2, "titlePadding": 6}}
 },
 "layer": [
  {"data": {"name": "L"}, "transform": [{"filter": "datum.p == 3"}], "mark": {"type": "line", "interpolate": "step-after", "strokeWidth": 1.2},
   "encoding": {"stroke": {"field": "k", "type": "nominal", "scale": {"domain": ["G","A","R"], "range": ["#46b36c","#d9a845","#c4474f"]}, "legend": null}}},
  {"data": {"name": "C"}, "transform": [{"filter": "datum.p == 3"}], "mark": {"type": "point", "filled": false, "strokeWidth": 1, "size": 16},
   "encoding": {
    "color": {"field": "k", "type": "nominal", "scale": {"domain": ["G","A","R","Gc","Ac","Rc"], "range": ["#46b36c","#d9a845","#c4474f","#46b36c","#d9a845","#c4474f"]}, "legend": null},
    "shape": {"field": "k", "type": "nominal", "scale": {"domain": ["G","A","R","Gc","Ac","Rc"], "range": ["M-1,0.35L-0.3,0.35L-0.3,-0.35L1,-0.35","M-1,0.35L-0.3,0.35L-0.3,-0.35L1,-0.35","M-1,0.35L-0.3,0.35L-0.3,-0.35L1,-0.35","M-1,0L1,0M0,-1L0,1","M-1,0L1,0M0,-1L0,1","M-1,0L1,0M0,-1L0,1"]}, "legend": null}
   }}
 ]},
{"width": 186, "height": 197,
 "encoding": {
  "x": {"field": "t", "type": "quantitative", "scale": {"domain": [-5.5, 105.5], "nice": false, "zero": false}, "axis": {"values": [0,20,40,60,80,100], "format": ".2f", "title": "Time to develop varices", "labelPadding": 1.5, "titlePadding": 4}},
  "y": {"field": "s", "type": "quantitative", "scale": {"domain": [-0.055, 1.055], "nice": false, "zero": false}, "axis": {"values": [0,0.2,0.4,0.6,0.8,1], "format": ".1f", "title": "Varices", "labelAngle": -90, "labelAlign": "center", "labelBaseline": "bottom", "labelPadding": 2, "titlePadding": 6}}
 },
 "layer": [
  {"data": {"name": "L"}, "transform": [{"filter": "datum.p == 4"}], "mark": {"type": "line", "interpolate": "step-after", "strokeWidth": 1.2},
   "encoding": {"stroke": {"field": "k", "type": "nominal", "scale": {"domain": ["G","A","R"], "range": ["#46b36c","#d9a845","#c4474f"]}, "legend": null}}},
  {"data": {"name": "C"}, "transform": [{"filter": "datum.p == 4"}], "mark": {"type": "point", "filled": false, "strokeWidth": 1, "size": 16},
   "encoding": {
    "color": {"field": "k", "type": "nominal", "scale": {"domain": ["G","A","R","Gc","Ac","Rc"], "range": ["#46b36c","#d9a845","#c4474f","#46b36c","#d9a845","#c4474f"]}, "legend": {"orient": "none", "legendX": 189, "legendY": 34, "labelExpr": "{'G':'Green','A':'Amber','R':'Red','Gc':'Green-censored','Ac':'Amber-censored','Rc':'Red-censored'}[datum.label]"}},
    "shape": {"field": "k", "type": "nominal", "scale": {"domain": ["G","A","R","Gc","Ac","Rc"], "range": ["M-1,0.35L-0.3,0.35L-0.3,-0.35L1,-0.35","M-1,0.35L-0.3,0.35L-0.3,-0.35L1,-0.35","M-1,0.35L-0.3,0.35L-0.3,-0.35L1,-0.35","M-1,0L1,0M0,-1L0,1","M-1,0L1,0M0,-1L0,1","M-1,0L1,0M0,-1L0,1"]}, "legend": {"orient": "none", "legendX": 189, "legendY": 34, "labelExpr": "{'G':'Green','A':'Amber','R':'Red','Gc':'Green-censored','Ac':'Amber-censored','Rc':'Red-censored'}[datum.label]"}}
   }}
 ]},
{"width": 186, "height": 194,
 "encoding": {
  "x": {"field": "t", "type": "quantitative", "scale": {"domain": [-5.5, 105.5], "nice": false, "zero": false}, "axis": {"values": [0,20,40,60,80,100], "format": ".2f", "title": "Time to develop ascites", "labelPadding": 1.5, "titlePadding": 7}},
  "y": {"field": "s", "type": "quantitative", "scale": {"domain": [-0.055, 1.055], "nice": false, "zero": false}, "axis": {"values": [0,0.2,0.4,0.6,0.8,1], "format": ".1f", "title": "Ascites", "labelAngle": -90, "labelAlign": "center", "labelBaseline": "bottom", "labelPadding": 2, "titlePadding": 6}}
 },
 "layer": [
  {"data": {"name": "L"}, "transform": [{"filter": "datum.p == 5"}], "mark": {"type": "line", "interpolate": "step-after", "strokeWidth": 1.2},
   "encoding": {"stroke": {"field": "k", "type": "nominal", "scale": {"domain": ["G","A","R"], "range": ["#46b36c","#d9a845","#c4474f"]}, "legend": null}}},
  {"data": {"name": "C"}, "transform": [{"filter": "datum.p == 5"}], "mark": {"type": "point", "filled": false, "strokeWidth": 1, "size": 16},
   "encoding": {
    "color": {"field": "k", "type": "nominal", "scale": {"domain": ["G","A","R","Gc","Ac","Rc"], "range": ["#46b36c","#d9a845","#c4474f","#46b36c","#d9a845","#c4474f"]}, "legend": null},
    "shape": {"field": "k", "type": "nominal", "scale": {"domain": ["G","A","R","Gc","Ac","Rc"], "range": ["M-1,0.35L-0.3,0.35L-0.3,-0.35L1,-0.35","M-1,0.35L-0.3,0.35L-0.3,-0.35L1,-0.35","M-1,0.35L-0.3,0.35L-0.3,-0.35L1,-0.35","M-1,0L1,0M0,-1L0,1","M-1,0L1,0M0,-1L0,1","M-1,0L1,0M0,-1L0,1"]}, "legend": null}
   }}
 ]},
{"width": 186, "height": 194,
 "encoding": {
  "x": {"field": "t", "type": "quantitative", "scale": {"domain": [-5.5, 105.5], "nice": false, "zero": false}, "axis": {"values": [0,20,40,60,80,100], "format": ".2f", "title": "Time to develop ascites", "labelPadding": 1.5, "titlePadding": 7}},
  "y": {"field": "s", "type": "quantitative", "scale": {"domain": [-0.055, 1.055], "nice": false, "zero": false}, "axis": {"values": [0,0.2,0.4,0.6,0.8,1], "format": ".1f", "title": "Ascites", "labelAngle": -90, "labelAlign": "center", "labelBaseline": "bottom", "labelPadding": 2, "titlePadding": 6}}
 },
 "layer": [
  {"data": {"name": "L"}, "transform": [{"filter": "datum.p == 6"}], "mark": {"type": "line", "interpolate": "step-after", "strokeWidth": 1.2},
   "encoding": {"stroke": {"field": "k", "type": "nominal", "scale": {"domain": ["G","A","R"], "range": ["#46b36c","#d9a845","#c4474f"]}, "legend": null}}},
  {"data": {"name": "C"}, "transform": [{"filter": "datum.p == 6"}], "mark": {"type": "point", "filled": false, "strokeWidth": 1, "size": 16},
   "encoding": {
    "color": {"field": "k", "type": "nominal", "scale": {"domain": ["G","A","R","Gc","Ac","Rc"], "range": ["#46b36c","#d9a845","#c4474f","#46b36c","#d9a845","#c4474f"]}, "legend": {"orient": "none", "legendX": 189, "legendY": 47, "labelExpr": "{'G':'Green','A':'Amber','R':'Red','Gc':'Green-censored','Ac':'Amber-censored','Rc':'Red-censored'}[datum.label]"}},
    "shape": {"field": "k", "type": "nominal", "scale": {"domain": ["G","A","R","Gc","Ac","Rc"], "range": ["M-1,0.35L-0.3,0.35L-0.3,-0.35L1,-0.35","M-1,0.35L-0.3,0.35L-0.3,-0.35L1,-0.35","M-1,0.35L-0.3,0.35L-0.3,-0.35L1,-0.35","M-1,0L1,0M0,-1L0,1","M-1,0L1,0M0,-1L0,1","M-1,0L1,0M0,-1L0,1"]}, "legend": {"orient": "none", "legendX": 189, "legendY": 47, "labelExpr": "{'G':'Green','A':'Amber','R':'Red','Gc':'Green-censored','Ac':'Amber-censored','Rc':'Red-censored'}[datum.label]"}}
   }}
 ]}
],
"config": {
 "view": {"stroke": "#d4ebf2", "strokeWidth": 1.5},
 "font": "Roboto",
 "axis": {"domain": false, "grid": false, "tickColor": "#d4ebf2", "tickSize": 3, "tickWidth": 1, "labelColor": "white", "labelFont": "Roboto", "labelFontSize": 8.5, "labelFontWeight": "bold", "titleColor": "white", "titleFont": "Roboto", "titleFontSize": 8.5, "titleFontWeight": "bold"},
 "legend": {"title": null, "labelColor": "white", "labelFont": "Roboto", "labelFontSize": 9, "labelFontWeight": "bold", "symbolSize": 49, "symbolStrokeWidth": 1.2, "rowPadding": 1.3, "labelOffset": 3, "padding": 0}
}
}
